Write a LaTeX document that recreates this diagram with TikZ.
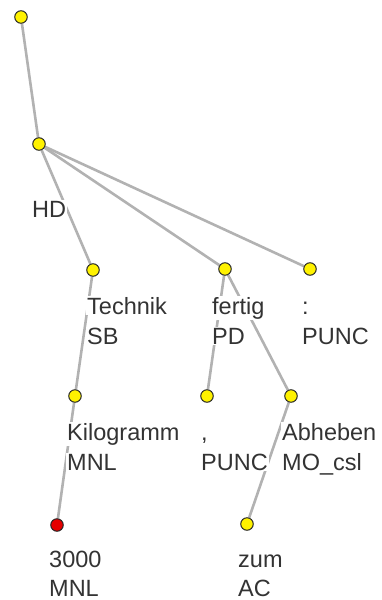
\documentclass[tikz,border=0pt]{standalone}
\usepackage{fontspec}
\setmainfont{Liberation Sans}
\usetikzlibrary{backgrounds}

\tikzset{
	tok/.style={circle, draw=black!85, fill=yellow, line width=1pt, minimum size=12.5pt, inner sep=0pt},
	hilite/.style={tok, fill=red!90!black},
	word/.style={anchor=base west, fill=white, inner sep=1pt, text=black!80, font=\fontsize{23.5}{28}\selectfont},
	dep/.style={draw=black!30, line width=2.6pt}
}

\begin{document}
\begin{tikzpicture}[x=1pt, y=-1pt]
	\useasboundingbox (0,0) rectangle (381,600);

	%% root
	\node[tok] (root) at (21,17) {};

	% HD
	\node[tok] (hd) at (39,144) {};
	\node[word] (hd-tag) at (31,217) {HD};

	% Technik
	\node[tok] (technik) at (93,270) {};
	\node[word] (technik-w) at (86,314) {Technik};
	\node[word] (technik-tag) at (86,344) {SB};

	% fertig
	\node[tok] (fertig) at (225,269) {};
	\node[word] (fertig-w) at (211,314) {fertig};
	\node[word] (fertig-tag) at (211,344) {PD};

	% :
	\node[tok] (colon) at (310,269) {};
	\node[word] (colon-w) at (301,314) {:};
	\node[word] (colon-tag) at (301,344) {PUNC};

	% Kilogramm
	\node[tok] (kilogramm) at (75,396) {};
	\node[word] (kilogramm-w) at (66,440) {Kilogramm};
	\node[word] (kilogramm-tag) at (66,470) {MNL};

	% ,
	\node[tok] (comma) at (207,396) {};
	\node[word] (comma-w) at (200,440) {,};
	\node[word] (comma-tag) at (200,470) {PUNC};

	% Abheben
	\node[tok] (abheben) at (291,396) {};
	\node[word] (abheben-w) at (281,440) {Abheben};
	\node[word] (abheben-tag) at (281,470) {MO\_csl};

	% 3000
	\node[hilite] (n3000) at (57,525) {};
	\node[word] (n3000-w) at (48,567) {3000};
	\node[word] (n3000-tag) at (48,596) {MNL};

	% zum
	\node[tok] (zum) at (247,524) {};
	\node[word] (zum-w) at (237,567) {zum};
	\node[word] (zum-tag) at (237,596) {AC};

	%% dependencies, behind the labels
	\begin{pgfonlayer}{background}
		\draw[dep] (root) -- (hd);
		\draw[dep] (hd) -- (technik);
		\draw[dep] (hd) -- (fertig);
		\draw[dep] (hd) -- (colon);
		\draw[dep] (technik) -- (kilogramm);
		\draw[dep] (kilogramm) -- (n3000);
		\draw[dep] (fertig) -- (comma);
		\draw[dep] (fertig) -- (abheben);
		\draw[dep] (abheben) -- (zum);
	\end{pgfonlayer}
\end{tikzpicture}
\end{document}
